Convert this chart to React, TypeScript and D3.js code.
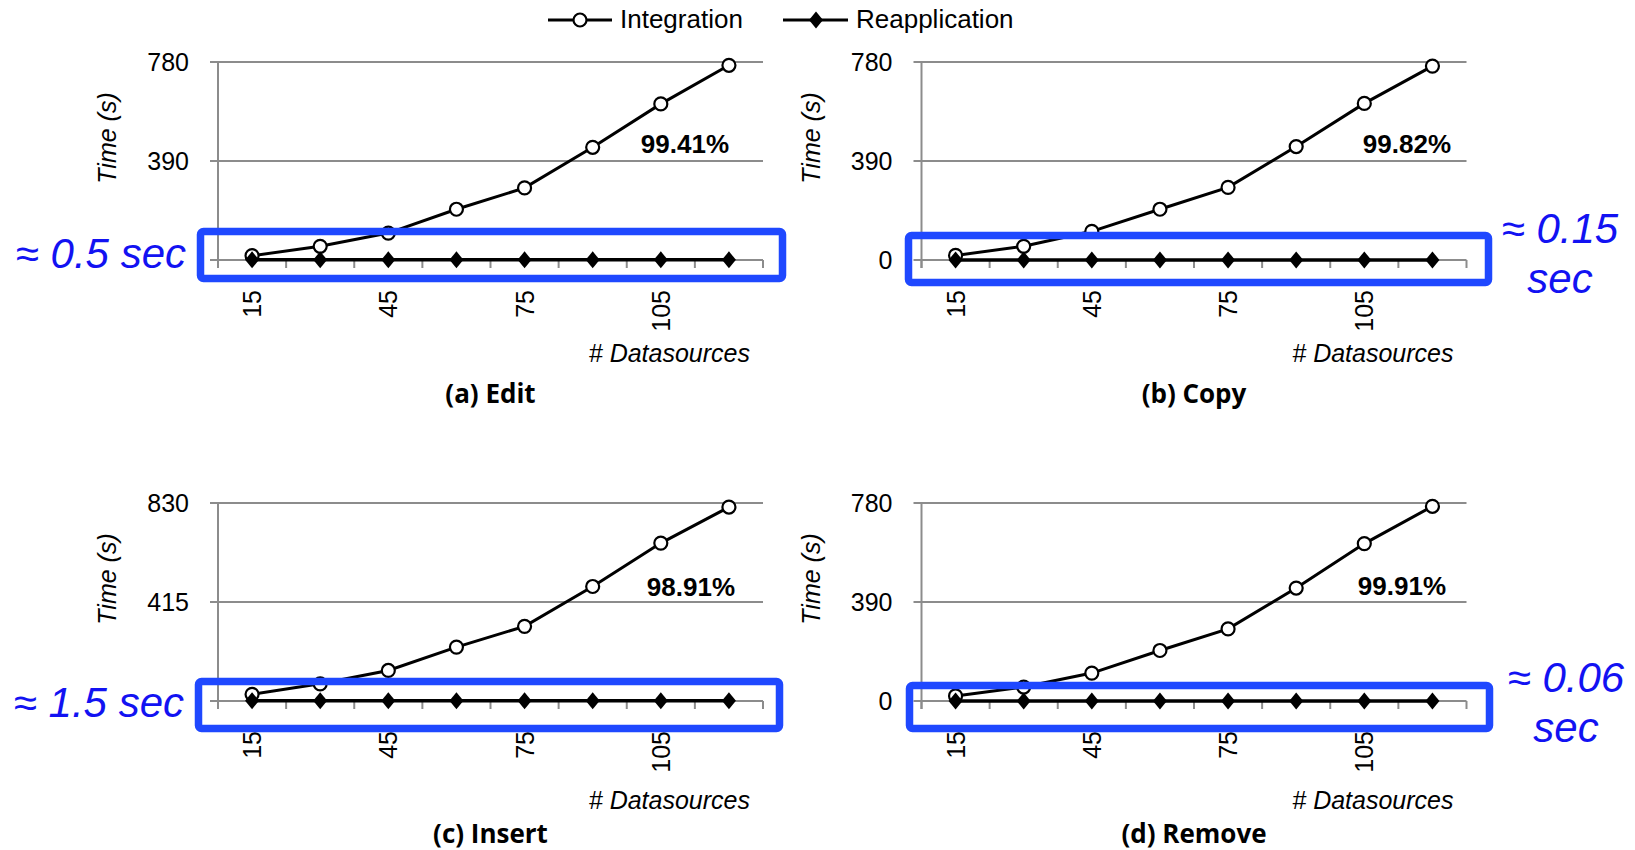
import React, { useEffect, useRef } from 'react';
import * as d3 from 'd3';

// x categories (# datasources) and which ones get a tick label
const datasources = [15, 30, 45, 60, 75, 90, 105, 120];
const labelledDatasources = [15, 45, 75, 105];

// integration time (s)
const editIntegration = [17, 54, 106, 200, 284, 444, 615, 767];
const copyIntegration = [18, 54, 113, 200, 286, 447, 617, 764];
const insertIntegration = [28, 72, 128, 226, 313, 480, 662, 813];
const removeIntegration = [20, 55, 110, 199, 284, 445, 620, 767];

// reapplication time (s), all about the annotated value
const editReapplication = [0.5, 0.5, 0.5, 0.5, 0.5, 0.5, 0.5, 0.5];
const copyReapplication = [0.15, 0.15, 0.15, 0.15, 0.15, 0.15, 0.15, 0.15];
const insertReapplication = [1.5, 1.5, 1.5, 1.5, 1.5, 1.5, 1.5, 1.5];
const removeReapplication = [0.06, 0.06, 0.06, 0.06, 0.06, 0.06, 0.06, 0.06];

const ticks780 = [0, 390, 780];
const ticks830 = [0, 415, 830];

const captions = ['(a) Edit', '(b) Copy', '(c) Insert', '(d) Remove'];
const savings = ['99.41%', '99.82%', '98.91%', '99.91%'];
const notes = [['≈ 0.5 sec'], ['≈ 0.15', 'sec'], ['≈ 1.5 sec'], ['≈ 0.06', 'sec']];

const W = 1635;
const H = 850;
const PLOT_W = 545;
const PLOT_H = 198;
const SANS = '"Liberation Sans", Arial, sans-serif';
const CAPTION_FONT = '"Open Sans", "Liberation Sans", sans-serif';
const GRID = '#8c8c8c';
const BOX_BLUE = '#1f48ff';
const TEXT_BLUE = '#1212f2';

// the note on the left hides the "0" label in (a) and (c)
const panels = [
  {
    integration: editIntegration, reapplication: editReapplication, ticks: ticks780,
    left: 218, y0: 260, pctX: 729, pctY: 153, dsY: 362, capY: 403, showZero: false,
    box: [200.5, 231.5, 582, 47], noteX: 186, noteY: 268, noteAnchor: 'end',
  },
  {
    integration: copyIntegration, reapplication: copyReapplication, ticks: ticks780,
    left: 921.5, y0: 260, pctX: 1451, pctY: 153, dsY: 362, capY: 403, showZero: true,
    box: [908.5, 235.5, 580, 47], noteX: 1560, noteY: 243, noteAnchor: 'middle',
  },
  {
    integration: insertIntegration, reapplication: insertReapplication, ticks: ticks830,
    left: 218, y0: 701, pctX: 735, pctY: 596, dsY: 809, capY: 843, showZero: false,
    box: [198.5, 681.5, 581, 47], noteX: 184, noteY: 717, noteAnchor: 'end',
  },
  {
    integration: removeIntegration, reapplication: removeReapplication, ticks: ticks780,
    left: 921.5, y0: 701, pctX: 1446, pctY: 595, dsY: 809, capY: 843, showZero: true,
    box: [909.5, 685.5, 580, 43], noteX: 1566, noteY: 692, noteAnchor: 'middle',
  },
];

const diamondPath = (cx: number, cy: number, hw = 7, hh = 8.5) => {
  const p = d3.path();
  p.moveTo(cx, cy - hh);
  p.lineTo(cx + hw, cy);
  p.lineTo(cx, cy + hh);
  p.lineTo(cx - hw, cy);
  p.closePath();
  return p.toString();
};

const App: React.FC = () => {
  const svgRef = useRef<SVGSVGElement>(null);

  useEffect(() => {
    if (!svgRef.current) return;
    document.body.style.margin = '0';
    const svg = d3.select(svgRef.current);
    svg.selectAll('*').remove();

    // legend
    const legend = svg.append('g');
    legend.append('line').attr('x1', 548).attr('x2', 612).attr('y1', 20).attr('y2', 20)
      .attr('stroke', '#000').attr('stroke-width', 3);
    legend.append('circle').attr('cx', 580).attr('cy', 20).attr('r', 6.5)
      .attr('fill', '#fff').attr('stroke', '#000').attr('stroke-width', 2.2);
    legend.append('text').attr('x', 620).attr('y', 28).attr('font-family', SANS)
      .attr('font-size', 26).text('Integration');
    legend.append('line').attr('x1', 783).attr('x2', 848).attr('y1', 20).attr('y2', 20)
      .attr('stroke', '#000').attr('stroke-width', 3);
    legend.append('path').attr('d', diamondPath(816, 20)).attr('fill', '#000');
    legend.append('text').attr('x', 856).attr('y', 28).attr('font-family', SANS)
      .attr('font-size', 26).text('Reapplication');

    panels.forEach((p, i) => {
      const right = p.left + PLOT_W;
      const x = d3.scaleBand<number>().domain(datasources).range([p.left, right]);
      const cx = (d: number) => (x(d) ?? 0) + x.bandwidth() / 2;
      const y = d3.scaleLinear().domain([0, p.ticks[p.ticks.length - 1]]).range([p.y0, p.y0 - PLOT_H]);
      const g = svg.append('g');

      // gridlines + x axis line
      p.ticks.forEach(t => {
        g.append('line').attr('x1', p.left - 8).attr('x2', right)
          .attr('y1', y(t)).attr('y2', y(t))
          .attr('stroke', GRID).attr('stroke-width', 2);
      });
      // y axis
      g.append('line').attr('x1', p.left).attr('x2', p.left)
        .attr('y1', y(p.ticks[p.ticks.length - 1])).attr('y2', p.y0 + 8)
        .attr('stroke', GRID).attr('stroke-width', 2);
      // category tick marks
      [...datasources.map(d => x(d) ?? 0), right].forEach(tx => {
        g.append('line').attr('x1', tx).attr('x2', tx).attr('y1', p.y0).attr('y2', p.y0 + 8)
          .attr('stroke', GRID).attr('stroke-width', 2);
      });

      // y tick labels
      p.ticks.filter(t => t !== 0 || p.showZero).forEach(t => {
        g.append('text').attr('x', p.left - 29).attr('y', y(t)).attr('dy', '0.36em')
          .attr('text-anchor', 'end').attr('font-family', SANS).attr('font-size', 25)
          .text(String(t));
      });
      g.append('text')
        .attr('transform', `translate(${p.left - 111},${p.y0 - 122}) rotate(-90)`)
        .attr('dy', '0.36em').attr('text-anchor', 'middle')
        .attr('font-family', SANS).attr('font-size', 25).attr('font-style', 'italic')
        .text('Time (s)');

      // x tick labels
      labelledDatasources.forEach(d => {
        g.append('text')
          .attr('transform', `translate(${cx(d)},${p.y0 + 30}) rotate(-90)`)
          .attr('dy', '0.36em').attr('text-anchor', 'end')
          .attr('font-family', SANS).attr('font-size', 25)
          .text(String(d));
      });
      g.append('text').attr('x', p.left + 532).attr('y', p.dsY).attr('text-anchor', 'end')
        .attr('font-family', SANS).attr('font-size', 25).attr('font-style', 'italic')
        .text('# Datasources');
      g.append('text').attr('x', (p.left + right) / 2).attr('y', p.capY).attr('text-anchor', 'middle')
        .attr('font-family', CAPTION_FONT).attr('font-size', 26).attr('font-weight', 700)
        .text(captions[i]);

      // series
      const line = d3.line<number>().x((_v, k) => cx(datasources[k])).y(v => y(v));
      g.append('path').attr('d', line(p.integration)).attr('fill', 'none')
        .attr('stroke', '#000').attr('stroke-width', 3);
      g.append('path').attr('d', line(p.reapplication)).attr('fill', 'none')
        .attr('stroke', '#000').attr('stroke-width', 3.5);
      p.integration.forEach((v, k) => {
        g.append('circle').attr('cx', cx(datasources[k])).attr('cy', y(v)).attr('r', 6.5)
          .attr('fill', '#fff').attr('stroke', '#000').attr('stroke-width', 2.2);
      });
      p.reapplication.forEach((v, k) => {
        g.append('path').attr('d', diamondPath(cx(datasources[k]), y(v))).attr('fill', '#000');
      });

      g.append('text').attr('x', p.pctX).attr('y', p.pctY).attr('text-anchor', 'end')
        .attr('font-family', SANS).attr('font-size', 26).attr('font-weight', 700)
        .text(savings[i]);

      // annotation box + note
      const [bx, by, bw, bh] = p.box;
      g.append('rect').attr('x', bx).attr('y', by).attr('width', bw).attr('height', bh)
        .attr('rx', 3).attr('fill', 'none').attr('stroke', BOX_BLUE).attr('stroke-width', 7.5);
      const note = g.append('text').attr('x', p.noteX).attr('y', p.noteY)
        .attr('text-anchor', p.noteAnchor).attr('font-family', SANS)
        .attr('font-size', 42).attr('font-style', 'italic').attr('fill', TEXT_BLUE);
      notes[i].forEach((s, k) => {
        note.append('tspan').attr('x', p.noteX).attr('dy', k === 0 ? 0 : 50).text(s);
      });
    });
  }, []);

  return <svg ref={svgRef} width={W} height={H} style={{ display: 'block', background: '#fff' }} />;
};

export default App;
